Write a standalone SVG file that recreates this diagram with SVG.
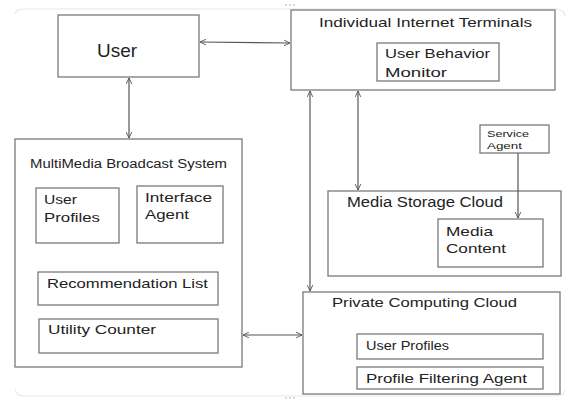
<svg xmlns="http://www.w3.org/2000/svg" width="568" height="400" viewBox="0 0 568 400">
  <style>
    .box { fill: #ffffff; stroke: #7a7a7a; stroke-width: 1.3; }
    .lbl { font-family: "Liberation Sans", "Open Sans", sans-serif; fill: #222222; }
    .edge { fill: none; stroke: #555555; stroke-width: 1.2; }
    .frame { fill: none; stroke: #e0ecf0; stroke-width: 1.2; }
  </style>
  <defs>
    <marker id="arr" viewBox="0 0 10 10" refX="9.5" refY="5" markerWidth="7" markerHeight="7" orient="auto-start-reverse" markerUnits="userSpaceOnUse">
      <path d="M1,1 L9.5,5 L1,9" fill="none" stroke="#555555" stroke-width="1.3"/>
    </marker>
  </defs>

  <rect width="568" height="400" fill="#ffffff"/>

  <!-- page frame -->
  <path class="frame" d="M15,14 Q16,9 24,9 L556,9 Q564,9 565,16"/>
  <path class="frame" d="M15,389 Q16,396 24,396 L556,396 Q564,396 565,389"/>
  <path d="M285,5 H297 M285,398 H297" stroke="#a8b2b8" stroke-width="1" stroke-dasharray="2,2"/>

  <g id="user">
    <rect class="box" x="58" y="15" width="141" height="62"/>
    <text class="lbl" x="97" y="57" font-size="19" textLength="40" lengthAdjust="spacingAndGlyphs">User</text>
  </g>

  <g id="terminals">
    <rect class="box" x="291" y="10" width="264" height="80"/>
    <text class="lbl" x="319" y="27" font-size="13" textLength="213" lengthAdjust="spacingAndGlyphs">Individual Internet Terminals</text>
  </g>

  <g id="behavior-monitor">
    <rect class="box" x="377" y="43" width="122" height="38"/>
    <text class="lbl" x="385" y="58" font-size="13.5" textLength="105" lengthAdjust="spacingAndGlyphs">User Behavior</text>
    <text class="lbl" x="385" y="77" font-size="13.5" textLength="62" lengthAdjust="spacingAndGlyphs">Monitor</text>
  </g>

  <g id="broadcast-system">
    <rect class="box" x="15" y="139" width="227" height="228"/>
    <text class="lbl" x="30" y="168" font-size="12.5" textLength="197" lengthAdjust="spacingAndGlyphs">MultiMedia Broadcast System</text>
  </g>

  <g id="mbs-user-profiles">
    <rect class="box" x="36" y="188" width="83" height="55"/>
    <text class="lbl" x="44" y="204" font-size="13" textLength="33" lengthAdjust="spacingAndGlyphs">User</text>
    <text class="lbl" x="44" y="222" font-size="13" textLength="56" lengthAdjust="spacingAndGlyphs">Profiles</text>
  </g>

  <g id="interface-agent">
    <rect class="box" x="137" y="186" width="86" height="57"/>
    <text class="lbl" x="145" y="202" font-size="13" textLength="67" lengthAdjust="spacingAndGlyphs">Interface</text>
    <text class="lbl" x="145" y="219" font-size="13" textLength="44" lengthAdjust="spacingAndGlyphs">Agent</text>
  </g>

  <g id="recommendation-list">
    <rect class="box" x="38" y="272" width="180" height="33"/>
    <text class="lbl" x="47" y="288" font-size="13" textLength="161" lengthAdjust="spacingAndGlyphs">Recommendation List</text>
  </g>

  <g id="utility-counter">
    <rect class="box" x="39" y="319" width="179" height="34"/>
    <text class="lbl" x="48" y="334" font-size="13" textLength="108" lengthAdjust="spacingAndGlyphs">Utility Counter</text>
  </g>

  <g id="service-agent">
    <rect class="box" x="480" y="125" width="69" height="28"/>
    <text class="lbl" x="487" y="137" font-size="9" textLength="42" lengthAdjust="spacingAndGlyphs">Service</text>
    <text class="lbl" x="487" y="149" font-size="9" textLength="35" lengthAdjust="spacingAndGlyphs">Agent</text>
  </g>

  <g id="media-storage-cloud">
    <rect class="box" x="328" y="191" width="233" height="85"/>
    <text class="lbl" x="347" y="207" font-size="14" textLength="156" lengthAdjust="spacingAndGlyphs">Media Storage Cloud</text>
  </g>

  <g id="media-content">
    <rect class="box" x="438" y="219" width="105" height="48"/>
    <text class="lbl" x="446" y="236" font-size="13.5" textLength="47" lengthAdjust="spacingAndGlyphs">Media</text>
    <text class="lbl" x="446" y="253" font-size="13.5" textLength="60" lengthAdjust="spacingAndGlyphs">Content</text>
  </g>

  <g id="private-computing-cloud">
    <rect class="box" x="303" y="292" width="257" height="102"/>
    <text class="lbl" x="332" y="307" font-size="13.5" textLength="185" lengthAdjust="spacingAndGlyphs">Private Computing Cloud</text>
  </g>

  <g id="pcc-user-profiles">
    <rect class="box" x="357" y="334" width="186" height="25"/>
    <text class="lbl" x="366" y="350" font-size="13" textLength="83" lengthAdjust="spacingAndGlyphs">User Profiles</text>
  </g>

  <g id="profile-filtering-agent">
    <rect class="box" x="357" y="367" width="186" height="22"/>
    <text class="lbl" x="366" y="383" font-size="13" textLength="161" lengthAdjust="spacingAndGlyphs">Profile Filtering Agent</text>
  </g>

  <g id="connectors">
    <line class="edge" x1="200" y1="42" x2="290" y2="43" marker-start="url(#arr)" marker-end="url(#arr)"/>
    <line class="edge" x1="129" y1="78" x2="129" y2="138" marker-start="url(#arr)" marker-end="url(#arr)"/>
    <line class="edge" x1="310" y1="91" x2="310" y2="291" marker-start="url(#arr)" marker-end="url(#arr)"/>
    <line class="edge" x1="358" y1="91" x2="358" y2="190" marker-start="url(#arr)" marker-end="url(#arr)"/>
    <line class="edge" x1="518" y1="153" x2="518" y2="218" marker-end="url(#arr)"/>
    <line class="edge" x1="243" y1="335" x2="302" y2="335" marker-start="url(#arr)" marker-end="url(#arr)"/>
  </g>
</svg>
